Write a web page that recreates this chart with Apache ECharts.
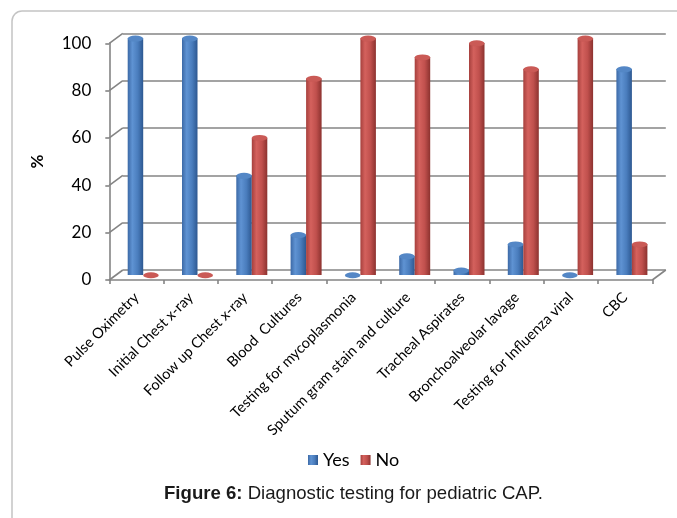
<!DOCTYPE html>
<html>
<head>
<meta charset="utf-8">
<script src="https://cdn.jsdelivr.net/npm/echarts@6/dist/echarts.min.js"></script>
<style>
  html, body { margin: 0; padding: 0; background: #ffffff; }
  #chart { width: 677px; height: 518px; }
</style>
</head>
<body>
<div id="chart"></div>
<script>
// Diagnostic tests and the share of children who did / did not receive each one
const categories = [
  'Pulse Oximetry',
  'Initial Chest x-ray',
  'Follow up Chest x-ray',
  'Blood  Cultures',
  'Testing for mycoplasmonia',
  'Sputum gram stain and culture',
  'Tracheal Aspirates',
  'Bronchoalveolar lavage',
  'Testing for Influenza viral',
  'CBC'
];
const yesValues = [100, 100, 42, 17, 0, 8, 2, 13, 0, 87];
const noValues  = [0, 0, 58, 83, 100, 92, 98, 87, 100, 13];
const seriesNames = ['Yes', 'No'];
const yMin = 0, yMax = 100, yStep = 20;

const GRID_W = 543, GRID_H = 236.7;
const DEPTH_X = 13.5, DEPTH_Y = 10;      // offset of the back wall from the front edge
const FRONT = { left: 109.3, top: 43.3 };
const LINE = '#848484';
const LINE_W = 1.6;
const FONT = 'Lato, "Open Sans", sans-serif';

function cylinder(edge, light, mid, dark) {
  return new echarts.graphic.LinearGradient(0, 0, 1, 0, [
    { offset: 0, color: edge },
    { offset: 0.3, color: light },
    { offset: 0.65, color: mid },
    { offset: 1, color: dark }
  ]);
}
const blueBody = cylinder('#3c69a6', '#5f93d3', '#4a7dbd', '#2d5891');
const redBody  = cylinder('#a6403d', '#d4615d', '#c0504d', '#8c322f');

const chart = echarts.init(document.getElementById('chart'), null, { renderer: 'canvas' });

function grid(dx, dy) {
  return {
    left: FRONT.left + dx, top: FRONT.top - dy, width: GRID_W, height: GRID_H,
    outerBoundsMode: 'none', containLabel: false
  };
}
function valueAxis(gridIndex, extra) {
  return Object.assign({
    type: 'value', gridIndex, min: yMin, max: yMax, interval: yStep,
    axisLabel: { show: false }, axisLine: { show: false }, axisTick: { show: false },
    splitLine: { show: false }
  }, extra);
}
function catAxis(gridIndex, extra) {
  return Object.assign({
    type: 'category', gridIndex, data: categories,
    axisLabel: { show: false }, axisLine: { show: false }, axisTick: { show: false }
  }, extra);
}

const BAR_W = 15.5;
const TITLE_FONT = '"Liberation Sans", Arial, sans-serif';

chart.setOption({
  animation: false,
  backgroundColor: '#ffffff',
  textStyle: { fontFamily: FONT },
  grid: [grid(DEPTH_X, DEPTH_Y), grid(DEPTH_X / 2, DEPTH_Y / 2), grid(0, 0)],
  xAxis: [
    catAxis(0),
    catAxis(1),
    catAxis(2, {
      axisLine: { show: true, lineStyle: { color: LINE, width: LINE_W } },
      axisTick: { show: true, length: 4, inside: false, lineStyle: { color: LINE, width: LINE_W } },
      axisLabel: {
        show: true, rotate: 45, interval: 0, margin: 15,
        fontFamily: FONT, fontSize: 14.6, color: '#000000'
      }
    })
  ],
  yAxis: [
    valueAxis(0, { splitLine: { show: true, lineStyle: { color: LINE, width: LINE_W } } }),
    valueAxis(1),
    valueAxis(2, {
      axisLine: { show: true, lineStyle: { color: LINE, width: LINE_W } },
      axisTick: { show: true, length: 4, lineStyle: { color: LINE, width: LINE_W } },
      axisLabel: { show: true, margin: 18, fontFamily: FONT, fontSize: 17, color: '#000000' },
      name: '%', nameLocation: 'middle', nameGap: 63, nameRotate: 90,
      nameTextStyle: { fontFamily: FONT, fontSize: 17, fontWeight: 'bold', color: '#000000' }
    })
  ],
  legend: {
    data: seriesNames,
    left: 303, top: 446,
    icon: 'rect', itemWidth: 10, itemHeight: 10, itemGap: 11,
    textStyle: { fontFamily: FONT, fontSize: 18, color: '#000000' }
  },
  title: {
    text: '{b|Figure 6:} Diagnostic testing for pediatric CAP.',
    left: 159, top: 479,
    textStyle: {
      fontFamily: TITLE_FONT, fontSize: 18.6, fontWeight: 'normal', color: '#1a1a1a',
      rich: { b: { fontFamily: TITLE_FONT, fontSize: 18.6, fontWeight: 'bold', color: '#1a1a1a' } }
    }
  },
  series: [
    {
      name: seriesNames[0], type: 'bar', xAxisIndex: 1, yAxisIndex: 1,
      data: yesValues, barWidth: BAR_W, barGap: '0%',
      itemStyle: { color: blueBody }
    },
    {
      name: seriesNames[1], type: 'bar', xAxisIndex: 1, yAxisIndex: 1,
      data: noValues, barWidth: BAR_W, barGap: '0%',
      itemStyle: { color: redBody }
    },
    // elliptical tops of the cylinders, centred on each value
    {
      name: seriesNames[0], type: 'pictorialBar', xAxisIndex: 1, yAxisIndex: 1,
      data: yesValues, symbol: 'circle', symbolSize: [BAR_W, 6], symbolPosition: 'end',
      symbolOffset: [0, '-50%'], barWidth: BAR_W, barGap: '0%', z: 3,
      itemStyle: { color: '#5487c6', borderColor: '#34619c', borderWidth: 0.8 }
    },
    {
      name: seriesNames[1], type: 'pictorialBar', xAxisIndex: 1, yAxisIndex: 1,
      data: noValues, symbol: 'circle', symbolSize: [BAR_W, 6], symbolPosition: 'end',
      symbolOffset: [0, '-50%'], barWidth: BAR_W, barGap: '0%', z: 3,
      itemStyle: { color: '#ca5a56', borderColor: '#973a37', borderWidth: 0.8 }
    }
  ]
});

// Depth edges: short diagonals joining the front axis to the back-wall gridlines,
// plus the right edge of the floor, and the rounded frame around the figure.
const edges = [];
for (let v = yMin; v <= yMax; v += yStep) {
  const yf = chart.convertToPixel({ yAxisIndex: 2 }, v);
  const yb = chart.convertToPixel({ yAxisIndex: 0 }, v);
  edges.push({
    type: 'line', silent: true,
    shape: { x1: FRONT.left, y1: yf, x2: FRONT.left + DEPTH_X, y2: yb },
    style: { stroke: LINE, lineWidth: LINE_W }
  });
}
const y0f = chart.convertToPixel({ yAxisIndex: 2 }, yMin);
const y0b = chart.convertToPixel({ yAxisIndex: 0 }, yMin);
edges.push({
  type: 'line', silent: true,
  shape: { x1: FRONT.left + GRID_W, y1: y0f, x2: FRONT.left + GRID_W + DEPTH_X, y2: y0b },
  style: { stroke: LINE, lineWidth: LINE_W }
});
edges.push({
  type: 'rect', silent: true, z: -1,
  shape: { x: 12, y: 11, width: 700, height: 540, r: 10 },
  style: { fill: 'none', stroke: '#c4c4c4', lineWidth: 1.5 }
});
chart.setOption({ graphic: edges });
</script>
</body>
</html>
